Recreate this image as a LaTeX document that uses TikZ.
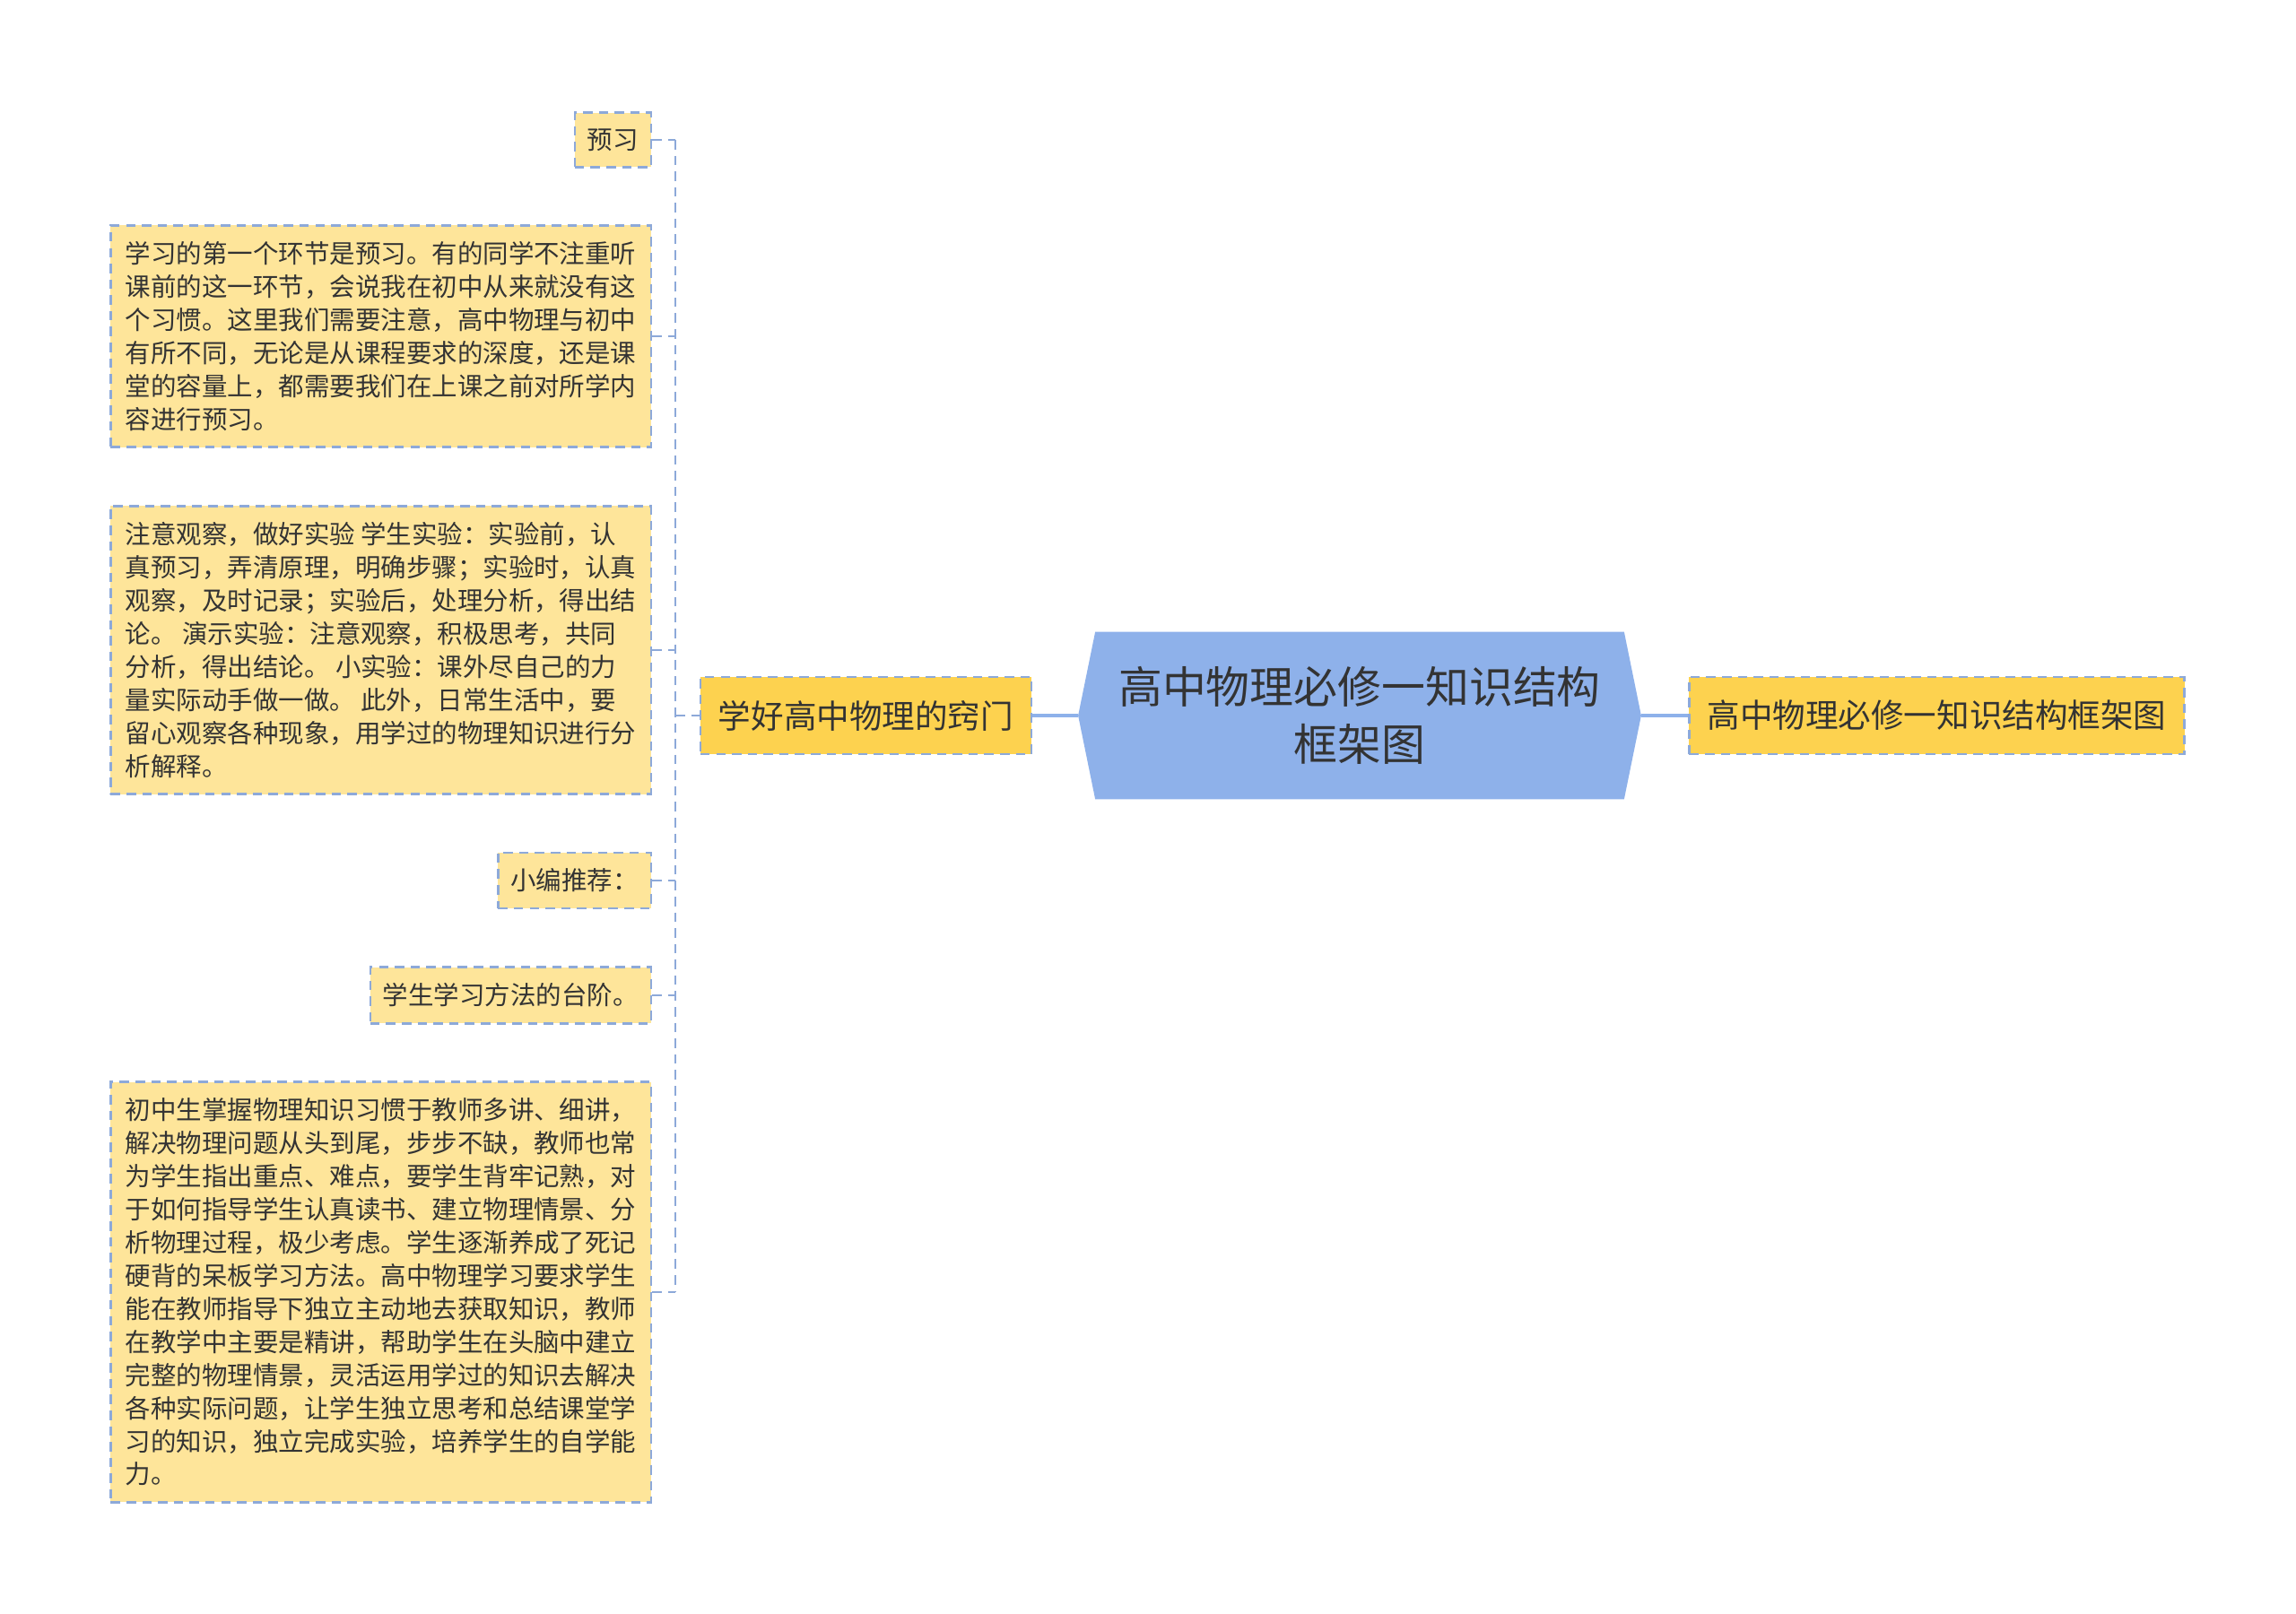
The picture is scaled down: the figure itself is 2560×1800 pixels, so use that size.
\documentclass[tikz,border=0pt]{standalone}
\usepackage{fontspec}
\setmainfont{Noto Sans CJK SC}
\usetikzlibrary{backgrounds}

\definecolor{leafyellow}{HTML}{FEE59A}
\definecolor{branchyellow}{HTML}{FDD24F}
\definecolor{rootblue}{HTML}{8EB1EA}
\definecolor{linkblue}{HTML}{8DA9D9}
\definecolor{txt}{HTML}{333333}

\tikzset{
    leaf/.style={draw=linkblue, dash pattern=on 3pt off 2pt, line width=0.7pt,
        fill=leafyellow, text=txt, font=\fontsize{8.1pt}{10.5pt}\selectfont,
        inner xsep=0.14cm, inner ysep=0.18cm, align=left, anchor=east},
    note/.style={leaf, minimum width=6.02cm},
    branch/.style={leaf, fill=branchyellow, font=\fontsize{10.4pt}{13pt}\selectfont,
        inner xsep=0.2cm, inner ysep=0.26cm, anchor=center},
    link/.style={draw=linkblue, dash pattern=on 3pt off 2pt, line width=0.7pt},
    trunk/.style={draw=rootblue, line width=1pt},
}

\begin{document}
\begin{tikzpicture}[x=0.01cm, y=-0.01cm]
    \useasboundingbox (0,0) rectangle (2560,1800);

    % centre and the two main branches
    \node[text=txt, font=\fontsize{13.9pt}{18.2pt}\selectfont, align=center,
        minimum width=6.26cm, minimum height=1.85cm, inner sep=0pt]
        (root) at (1516,798) {高中物理必修一知识结构\\框架图};
    \begin{scope}[on background layer]
        \fill[rootblue] (root.west) -- ([xshift=0.19cm]root.north west)
            -- ([xshift=-0.19cm]root.north east) -- (root.east)
            -- ([xshift=-0.19cm]root.south east) -- ([xshift=0.19cm]root.south west) -- cycle;
    \end{scope}
    \node[branch] (door) at (965.5,798) {学好高中物理的窍门};
    \node[branch] (title) at (2159.5,798) {高中物理必修一知识结构框架图};

    % leaves of the left branch
    \node[leaf] (yuxi) at (727,156) {预习};
    \node[note] (preview) at (727,375) {学习的第一个环节是预习。有的同学不注重听\\
        课前的这一环节，会说我在初中从来就没有这\\
        个习惯。这里我们需要注意，高中物理与初中\\
        有所不同，无论是从课程要求的深度，还是课\\
        堂的容量上，都需要我们在上课之前对所学内\\
        容进行预习。};
    \node[note] (observe) at (727,725) {注意观察，做好实验 学生实验：实验前，认\\
        真预习，弄清原理，明确步骤；实验时，认真\\
        观察，及时记录；实验后，处理分析，得出结\\
        论。 演示实验：注意观察，积极思考，共同\\
        分析，得出结论。 小实验：课外尽自己的力\\
        量实际动手做一做。 此外，日常生活中，要\\
        留心观察各种现象，用学过的物理知识进行分\\
        析解释。};
    \node[leaf] (tuijian) at (727,982) {小编推荐：};
    \node[leaf] (taijie) at (727,1110) {学生学习方法的台阶。};
    \node[note] (habit) at (727,1441) {初中生掌握物理知识习惯于教师多讲、细讲，\\
        解决物理问题从头到尾，步步不缺，教师也常\\
        为学生指出重点、难点，要学生背牢记熟，对\\
        于如何指导学生认真读书、建立物理情景、分\\
        析物理过程，极少考虑。学生逐渐养成了死记\\
        硬背的呆板学习方法。高中物理学习要求学生\\
        能在教师指导下独立主动地去获取知识，教师\\
        在教学中主要是精讲，帮助学生在头脑中建立\\
        完整的物理情景，灵活运用学过的知识去解决\\
        各种实际问题，让学生独立思考和总结课堂学\\
        习的知识，独立完成实验，培养学生的自学能\\
        力。};

    % connectors
    \coordinate (fork) at (753,798);
    \foreach \n in {yuxi,preview,observe,tuijian,taijie,habit}
        \draw[link] (\n.east) -- (\n.east -| fork);
    \draw[link] (yuxi.east -| fork) -- (habit.east -| fork);
    \draw[link] (fork) -- (door.west);
    \draw[trunk] (door.east) -- (root.west);
    \draw[trunk] (root.east) -- (title.west);
\end{tikzpicture}
\end{document}
